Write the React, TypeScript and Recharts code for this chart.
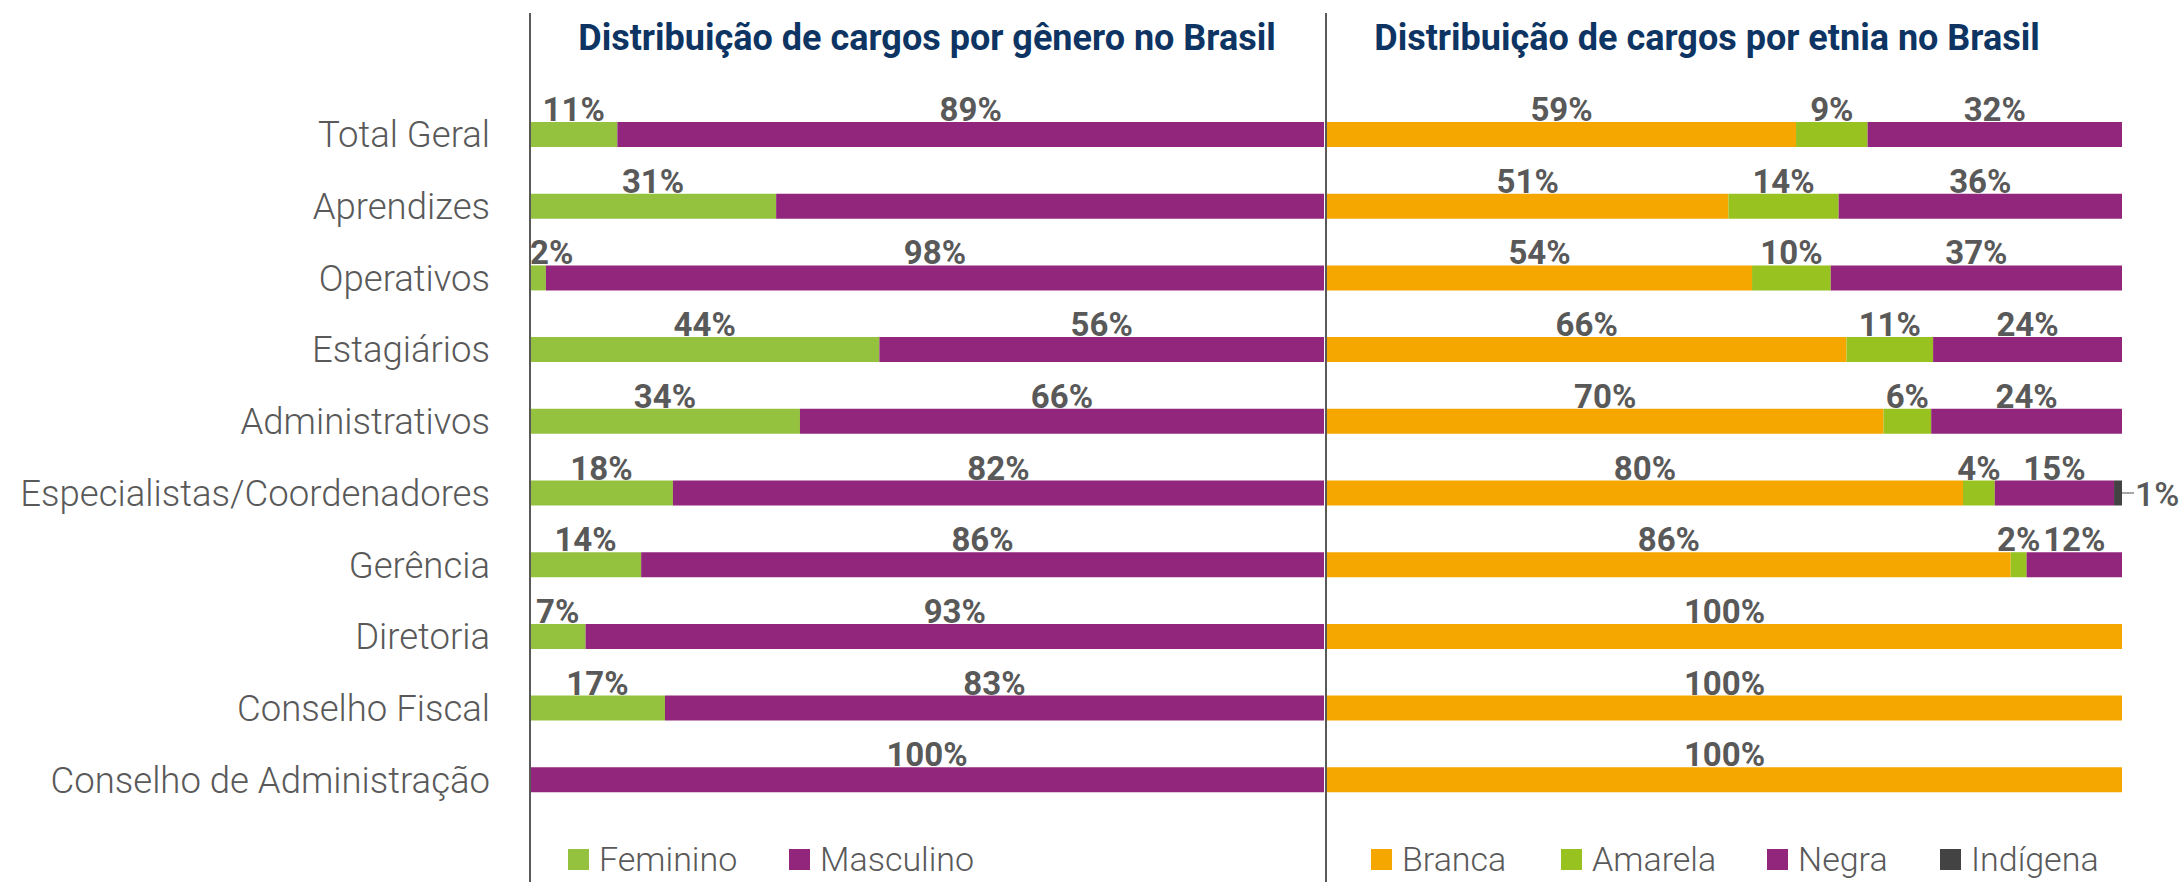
import React from "react";
import { BarChart, Bar, XAxis, YAxis, LabelList } from "recharts";

const categories = [
  "Total Geral",
  "Aprendizes",
  "Operativos",
  "Estagiários",
  "Administrativos",
  "Especialistas/Coordenadores",
  "Gerência",
  "Diretoria",
  "Conselho Fiscal",
  "Conselho de Administração",
];

const feminino = [11, 31, 2, 44, 34, 18, 14, 7, 17, 0];
const masculino = [89, 69, 98, 56, 66, 82, 86, 93, 83, 100];
const masculinoLabels = ["89%", "", "98%", "56%", "66%", "82%", "86%", "93%", "83%", "100%"];

const branca = [59, 51, 54, 66, 70, 80, 86, 100, 100, 100];
const amarela = [9, 14, 10, 11, 6, 4, 2, 0, 0, 0];
const negra = [32, 36, 37, 24, 24, 15, 12, 0, 0, 0];
const indigena = [0, 0, 0, 0, 0, 1, 0, 0, 0, 0];

const genderTitle = "Distribuição de cargos por gênero no Brasil";
const ethnicTitle = "Distribuição de cargos por etnia no Brasil";

const C_GREEN = "#94C13E";
const C_AMARELA = "#97C21F";
const C_PURPLE = "#92267D";
const C_ORANGE = "#F5A700";
const C_DARK = "#434343";
const C_TEXT = "#595959";
const C_TITLE = "#0D3462";
const FONT = "Roboto, 'Noto Sans', sans-serif";

const genderData = categories.map((c, i) => ({
  name: c,
  Feminino: feminino[i],
  Masculino: masculino[i],
}));

const ethnicData = categories.map((c, i) => ({
  name: c,
  Branca: branca[i],
  Amarela: amarela[i],
  Negra: negra[i],
  Indigena: indigena[i],
}));

const LABEL_SIZE = 33;

function approxWidth(text: string) {
  let w = 0;
  for (const ch of text) w += ch === "%" ? 0.75 : 0.565;
  return w * LABEL_SIZE;
}

function makeLabel(getText: (i: number) => string, minX: number) {
  return (props: any) => {
    const { x, y, width, index } = props;
    const text = getText(index);
    if (!text) return null;
    const half = approxWidth(text) / 2;
    let cx = Number(x) + Number(width) / 2;
    if (cx - half < minX) cx = minX + half;
    return (
      <text
        x={cx}
        y={Number(y) - 1}
        textAnchor="middle"
        fill={C_TEXT}
        fontFamily={FONT}
        fontWeight={700}
        fontSize={LABEL_SIZE}
      >
        {text}
      </text>
    );
  };
}

const indigenaLabel = (props: any) => {
  const { x, y, width, height, value } = props;
  const v = Array.isArray(value) ? value[value.length - 1] : value;
  if (!v || !(Number(width) > 0)) return null;
  const x1 = Number(x) + Number(width);
  const cy = Number(y) + Number(height) / 2;
  return (
    <g>
      <line x1={x1} y1={cy} x2={x1 + 12} y2={cy} stroke="#A6A6A6" strokeWidth={2} />
      <text
        x={x1 + 13}
        y={cy + 1}
        dominantBaseline="central"
        fill={C_TEXT}
        fontFamily={FONT}
        fontWeight={500}
        fontSize={34}
      >
        {v + "%"}
      </text>
    </g>
  );
};

const pct = (arr: number[]) => (i: number) => (arr[i] ? arr[i] + "%" : "");

function CategoryTick(props: any) {
  const { x, y, payload } = props;
  return (
    <text
      x={x}
      y={y}
      textAnchor="end"
      dominantBaseline="central"
      fill={C_TEXT}
      fontFamily={FONT}
      fontWeight={300}
      fontSize={36.5}
    >
      {payload.value}
    </text>
  );
}

function LegendRow({ items }: { items: { label: string; color: string; x: number }[] }) {
  return (
    <>
      {items.map((it) => (
        <div
          key={it.label}
          style={{
            position: "absolute",
            left: it.x,
            top: 0,
            display: "flex",
            alignItems: "center",
            height: 40,
            whiteSpace: "nowrap",
          }}
        >
          <div style={{ width: 21, height: 21, background: it.color, marginRight: 10 }} />
          <span style={{ fontFamily: FONT, fontWeight: 300, fontSize: 34, color: C_TEXT, lineHeight: "40px" }}>{it.label}</span>
        </div>
      ))}
    </>
  );
}

const PLOT_TOP = 99;
const PLOT_BOTTOM = 816;
const H = 882;

export default function App() {
  return (
    <div style={{ position: "absolute", left: 0, top: 0, width: 2181, height: H, background: "#fff", overflow: "hidden" }}>
      <div style={{ position: "absolute", left: 0, top: 0 }}>
        <BarChart
          width={1326}
          height={H}
          data={genderData}
          layout="vertical"
          margin={{ top: PLOT_TOP, bottom: H - PLOT_BOTTOM, left: 0, right: 2 }}
          barSize={25}
        >
          <XAxis type="number" domain={[0, 100]} hide />
          <YAxis
            type="category"
            dataKey="name"
            width={530}
            axisLine={false}
            tickLine={false}
            tick={<CategoryTick />}
            tickMargin={34}
            interval={0}
          />
          <Bar dataKey="Feminino" stackId="g" fill={C_GREEN} isAnimationActive={false}>
            <LabelList content={makeLabel(pct(feminino), 530)} />
          </Bar>
          <Bar dataKey="Masculino" stackId="g" fill={C_PURPLE} isAnimationActive={false}>
            <LabelList content={makeLabel((i) => masculinoLabels[i], 530)} />
          </Bar>
        </BarChart>
      </div>
      <div style={{ position: "absolute", left: 1327, top: 0 }}>
        <BarChart
          width={2181 - 1327}
          height={H}
          data={ethnicData}
          layout="vertical"
          stackOffset="expand"
          margin={{ top: PLOT_TOP, bottom: H - PLOT_BOTTOM, left: 0, right: 2181 - 2122 }}
          barSize={25}
        >
          <XAxis type="number" domain={[0, 1]} hide />
          <YAxis type="category" dataKey="name" hide />
          <Bar dataKey="Branca" stackId="e" fill={C_ORANGE} isAnimationActive={false}>
            <LabelList content={makeLabel(pct(branca), 0)} />
          </Bar>
          <Bar dataKey="Amarela" stackId="e" fill={C_AMARELA} isAnimationActive={false}>
            <LabelList content={makeLabel(pct(amarela), 0)} />
          </Bar>
          <Bar dataKey="Negra" stackId="e" fill={C_PURPLE} isAnimationActive={false}>
            <LabelList content={makeLabel(pct(negra), 0)} />
          </Bar>
          <Bar dataKey="Indigena" name="Indígena" stackId="e" fill={C_DARK} isAnimationActive={false}>
            <LabelList
              valueAccessor={(entry: any) => (entry && entry.payload ? entry.payload.Indigena : undefined)}
              content={indigenaLabel}
            />
          </Bar>
        </BarChart>
      </div>

      {/* vertical separators / axis lines */}
      <div style={{ position: "absolute", left: 529, top: 13, width: 2, height: H - 13, background: C_TEXT }} />
      <div style={{ position: "absolute", left: 1325, top: 13, width: 2, height: H - 13, background: C_TEXT }} />

      {/* titles */}
      <div
        style={{
          position: "absolute",
          left: 530,
          width: 794,
          top: 16,
          textAlign: "center",
          fontFamily: FONT,
          fontWeight: 700,
          fontSize: 36,
          color: C_TITLE,
          lineHeight: "44px",
          whiteSpace: "nowrap",
        }}
      >
        {genderTitle}
      </div>
      <div
        style={{
          position: "absolute",
          left: 1327,
          width: 760,
          top: 16,
          textAlign: "center",
          fontFamily: FONT,
          fontWeight: 700,
          fontSize: 36,
          color: C_TITLE,
          lineHeight: "44px",
          whiteSpace: "nowrap",
        }}
      >
        {ethnicTitle}
      </div>

      {/* legends */}
      <div style={{ position: "absolute", left: 0, top: 839, width: 2181, height: 40 }}>
        <LegendRow
          items={[
            { label: "Feminino", color: C_GREEN, x: 568 },
            { label: "Masculino", color: C_PURPLE, x: 789 },
            { label: "Branca", color: C_ORANGE, x: 1371 },
            { label: "Amarela", color: C_AMARELA, x: 1561 },
            { label: "Negra", color: C_PURPLE, x: 1767 },
            { label: "Indígena", color: C_DARK, x: 1940 },
          ]}
        />
      </div>
    </div>
  );
}
